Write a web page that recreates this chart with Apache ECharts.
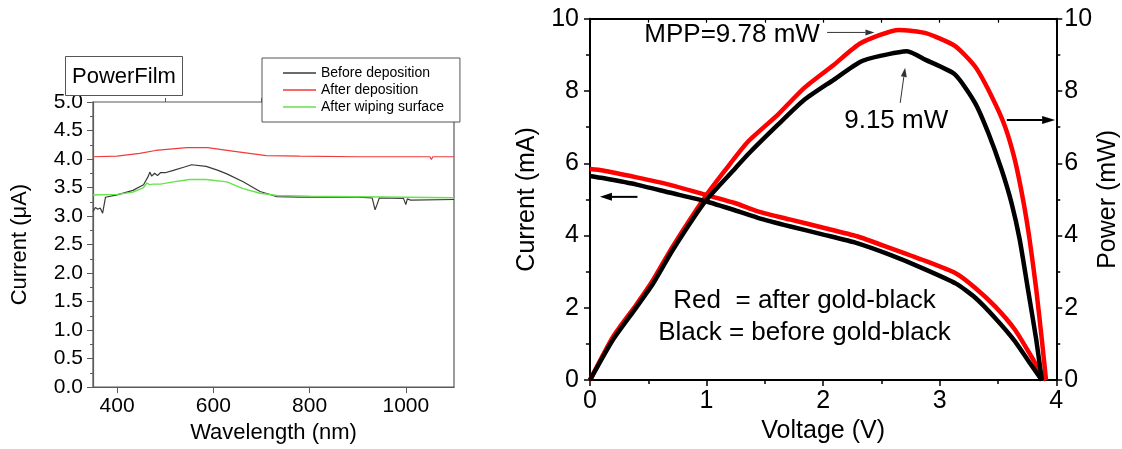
<!DOCTYPE html>
<html><head><meta charset="utf-8">
<script src="https://cdn.jsdelivr.net/npm/echarts@6/dist/echarts.min.js"></script>
<style>html,body{margin:0;padding:0;background:#fff}#c{width:1122px;height:449px}</style>
</head><body><div id="c"></div>
<script>
// ---------- Left panel data (wavelength in nm, current in µA) ----------
const wlBefore = [350,355,360,365,370,374,376,400,433,455,465,468,472,478,484,490,500,517,540,555,585,610,628,662,697,732,780,900,930,936,940,945,995,1000,1003,1010,1100];
const curBefore = [3.08,3.15,3.12,3.14,3.05,3.06,3.33,3.37,3.45,3.55,3.70,3.77,3.70,3.75,3.71,3.76,3.76,3.80,3.86,3.90,3.87,3.80,3.74,3.60,3.43,3.34,3.33,3.33,3.32,3.11,3.20,3.32,3.31,3.20,3.30,3.28,3.29];
const wlAfter = [350,400,447,480,545,588,640,710,779,900,1050,1053,1056,1100];
const curAfter = [4.04,4.05,4.10,4.15,4.20,4.20,4.14,4.06,4.05,4.04,4.04,3.99,4.04,4.04];
const wlWiped = [350,400,433,455,462,467,475,490,517,551,585,628,662,697,732,800,1000,1100];
const curWiped = [3.37,3.38,3.42,3.50,3.58,3.55,3.56,3.56,3.60,3.64,3.64,3.60,3.48,3.40,3.36,3.35,3.33,3.32];
const leftXTicks = [400,600,800,1000];
const leftXMinor = [500,700,900,1100];
const leftSeriesNames = ['Before deposition','After deposition','After wiping surface'];

// ---------- Right panel data (voltage V, current mA, power mW) ----------
const vBlackI = [0,0.11,0.40,0.68,0.99,1.243,1.44,1.72,2.01,2.29,2.57,2.85,3.14,3.305,3.475,3.644,3.771,3.876];
const iBlack  = [5.65,5.59,5.41,5.19,4.95,4.70,4.49,4.25,4.02,3.79,3.47,3.10,2.67,2.28,1.72,1.08,0.48,0];
const vRedI = [0,0.11,0.40,0.68,0.99,1.243,1.44,1.72,2.01,2.29,2.57,2.85,3.14,3.305,3.475,3.644,3.785,3.884,3.912];
const iRed  = [5.84,5.80,5.61,5.41,5.13,4.90,4.67,4.44,4.21,3.98,3.66,3.33,2.95,2.55,2.04,1.40,0.66,0.11,0];
const vBlackP = [0,0.198,0.395,0.537,0.706,0.99,1.243,1.356,1.61,1.836,2.09,2.32,2.49,2.72,2.88,3.13,3.305,3.418,3.531,3.616,3.686,3.757,3.828,3.876];
const pBlack  = [0,1.12,2.0,2.65,3.58,4.95,5.85,6.25,7.06,7.75,8.31,8.81,8.97,9.10,8.86,8.46,7.66,6.83,5.82,4.90,3.89,2.51,1.12,0];
const vRedP = [0,0.198,0.395,0.537,0.706,0.99,1.158,1.356,1.61,1.836,2.09,2.32,2.65,2.88,3.13,3.305,3.446,3.56,3.644,3.715,3.771,3.828,3.876,3.912];
const pRed  = [0,1.2,2.08,2.75,3.68,5.08,5.80,6.60,7.34,8.08,8.72,9.32,9.69,9.60,9.25,8.67,7.85,7.02,6.10,4.99,3.89,2.51,1.12,0];

const zip = (a, b) => a.map((x, i) => [x, b[i]]);
const FONT = '"Liberation Sans", Arial, Helvetica, sans-serif';

const chart = echarts.init(document.getElementById('c'), null, {renderer: 'canvas'});

const leftAxisColor = '#5a5a5a';
const SMOOTH = 0.2;

chart.setOption({
  animation: false,
  backgroundColor: '#fff',
  textStyle: {fontFamily: FONT, color: '#000'},
  title: [{
    text: 'PowerFilm', left: 65, top: 56,
    padding: [7, 7, 6, 7],
    borderColor: '#555', borderWidth: 1, backgroundColor: '#fff',
    textStyle: {fontSize: 22, fontWeight: 'normal', fontFamily: FONT, color: '#000', lineHeight: 27}
  }],
  legend: {
    orient: 'vertical', left: 262, top: 58,
    padding: [7, 16, 7, 21],
    icon: 'rect',
    itemWidth: 33, itemHeight: 1.5, itemGap: 1,
    borderColor: '#555', borderWidth: 1, backgroundColor: '#fff',
    textStyle: {fontSize: 14, fontFamily: FONT, color: '#000', lineHeight: 16},
    data: leftSeriesNames, z: 10
  },
  grid: [
    {left: 93, top: 102, width: 361, height: 290, show: true, borderColor: leftAxisColor, borderWidth: 1.2, containLabel: false},
    {left: 590, top: 18.7, width: 472, height: 362, show: false, containLabel: false}
  ],
  xAxis: [
    {gridIndex: 0, type: 'value', min: 350, max: 1100,
     name: 'Wavelength (nm)', nameLocation: 'middle', nameGap: 30,
     nameTextStyle: {fontSize: 22, fontFamily: FONT, color: '#000'},
     axisLine: {show: true, lineStyle: {color: leftAxisColor, width: 1.2}},
     axisTick: {show: true, customValues: leftXTicks, length: 6, lineStyle: {color: leftAxisColor}},
     axisLabel: {customValues: leftXTicks, fontSize: 21, color: '#000', margin: 9, fontFamily: FONT, formatter: v => String(v)},
     splitLine: {show: false}},
    {gridIndex: 0, type: 'value', min: 350, max: 1100,
     axisLine: {show: false},
     axisTick: {show: true, customValues: leftXMinor, length: 4, lineStyle: {color: leftAxisColor}},
     axisLabel: {show: false}, splitLine: {show: false}},
    {gridIndex: 1, type: 'value', min: 0, max: 4, interval: 1, position: 'bottom',
     name: 'Voltage (V)', nameLocation: 'middle', nameGap: 34,
     nameTextStyle: {fontSize: 25, fontFamily: FONT, color: '#000'},
     axisLine: {show: true, onZero: false, lineStyle: {color: '#000', width: 2}},
     axisTick: {show: true, length: 6, lineStyle: {color: '#000', width: 1.5}},
     minorTick: {show: true, splitNumber: 2, length: 4, lineStyle: {color: '#000', width: 1.5}},
     axisLabel: {fontSize: 25, color: '#000', margin: 9, fontFamily: FONT},
     splitLine: {show: false}, minorSplitLine: {show: false}},
    {gridIndex: 1, type: 'value', min: 0, max: 4, interval: 0.5, position: 'top',
     axisLine: {show: true, onZero: false, lineStyle: {color: '#000', width: 2}},
     axisTick: {show: true, inside: true, length: 4, lineStyle: {color: '#000', width: 1.2}},
     axisLabel: {show: false}, splitLine: {show: false}}
  ],
  yAxis: [
    {gridIndex: 0, type: 'value', min: 0, max: 5, interval: 0.5,
     name: 'Current (\u03bcA)', nameLocation: 'middle', nameGap: 62,
     nameTextStyle: {fontSize: 22, fontFamily: FONT, color: '#000'},
     axisLine: {show: true, lineStyle: {color: leftAxisColor, width: 1.2}},
     axisTick: {show: true, length: 6, lineStyle: {color: leftAxisColor}},
     minorTick: {show: true, splitNumber: 2, length: 3, lineStyle: {color: leftAxisColor}},
     axisLabel: {fontSize: 21, color: '#000', margin: 10, fontFamily: FONT, formatter: v => v.toFixed(1)},
     splitLine: {show: false}},
    {gridIndex: 1, type: 'value', min: 0, max: 10, interval: 2, position: 'left',
     name: 'Current (mA)', nameLocation: 'middle', nameGap: 50,
     nameTextStyle: {fontSize: 25, fontFamily: FONT, color: '#000'},
     axisLine: {show: true, onZero: false, lineStyle: {color: '#000', width: 2}},
     axisTick: {show: true, length: 6, lineStyle: {color: '#000', width: 1.5}},
     minorTick: {show: true, splitNumber: 2, length: 4, lineStyle: {color: '#000', width: 1.5}},
     axisLabel: {fontSize: 25, color: '#000', margin: 11, fontFamily: FONT},
     splitLine: {show: false}},
    {gridIndex: 1, type: 'value', min: 0, max: 10, interval: 2, position: 'right',
     name: 'Power (mW)', nameLocation: 'middle', nameGap: 30,
     nameTextStyle: {fontSize: 25, fontFamily: FONT, color: '#000'},
     axisLine: {show: true, onZero: false, lineStyle: {color: '#000', width: 2}},
     axisTick: {show: true, length: 6, lineStyle: {color: '#000', width: 1.5}},
     minorTick: {show: true, splitNumber: 2, length: 4, lineStyle: {color: '#000', width: 1.5}},
     axisLabel: {fontSize: 25, color: '#000', margin: 8, fontFamily: FONT},
     splitLine: {show: false}}
  ],
  series: [
    {name: leftSeriesNames[0], type: 'line', xAxisIndex: 0, yAxisIndex: 0, symbol: 'none',
     data: zip(wlBefore, curBefore), lineStyle: {color: '#3a3a3a', width: 1.2}, itemStyle: {color: '#3a3a3a'}},
    {name: leftSeriesNames[1], type: 'line', xAxisIndex: 0, yAxisIndex: 0, symbol: 'none',
     data: zip(wlAfter, curAfter), lineStyle: {color: '#f23a3a', width: 1.2}, itemStyle: {color: '#f23a3a'}},
    {name: leftSeriesNames[2], type: 'line', xAxisIndex: 0, yAxisIndex: 0, symbol: 'none',
     data: zip(wlWiped, curWiped), lineStyle: {color: '#66e24a', width: 1.4}, itemStyle: {color: '#66e24a'}},

    {name: 'Red power', type: 'line', xAxisIndex: 2, yAxisIndex: 2, symbol: 'none', smooth: SMOOTH,
     data: zip(vRedP, pRed), lineStyle: {color: '#ff0000', width: 4.5, join: 'round'}},
    {name: 'Red current', type: 'line', xAxisIndex: 2, yAxisIndex: 1, symbol: 'none', smooth: SMOOTH,
     data: zip(vRedI, iRed), lineStyle: {color: '#ff0000', width: 4.5, join: 'round'}},
    {name: 'Black power', type: 'line', xAxisIndex: 2, yAxisIndex: 2, symbol: 'none', smooth: SMOOTH,
     data: zip(vBlackP, pBlack), lineStyle: {color: '#000', width: 4.5, join: 'round'}},
    {name: 'Black current', type: 'line', xAxisIndex: 2, yAxisIndex: 1, symbol: 'none', smooth: SMOOTH,
     data: zip(vBlackI, iBlack), lineStyle: {color: '#000', width: 4.5, join: 'round'}}
  ]
});

// ---------- Annotations (in data coordinates of the right panel) ----------
const notes = [
  {text: 'MPP=9.78 mW', at: [0.466, 9.55], align: 'left'},
  {text: '9.15 mW', at: [2.627, 7.17], align: 'center'},
  {text: 'Red  = after gold-black', at: [1.84, 2.18], align: 'center'},
  {text: 'Black = before gold-black', at: [1.84, 1.31], align: 'center'}
];
const arrows = [
  {from: [2.034, 9.62], to: [2.44, 9.62], lw: 1, hl: 9, hw: 3, color: '#333'},
  {from: [2.661, 7.67], to: [2.703, 8.64], lw: 1, hl: 9, hw: 3, color: '#333'},
  {from: [0.407, 5.07], to: [0.085, 5.07], lw: 2, hl: 12, hw: 4, color: '#000'},
  {from: [3.576, 7.2], to: [3.99, 7.2], lw: 2, hl: 13, hw: 4, color: '#000'}
];
const px = p => chart.convertToPixel({xAxisIndex: 2, yAxisIndex: 1}, p);
const g = [];
notes.forEach(n => {
  const p = px(n.at);
  g.push({type: 'text', x: p[0], y: p[1], z: 100,
    style: {text: n.text, fill: '#000', font: '26px ' + FONT, align: n.align, verticalAlign: 'middle',
            textAlign: n.align, textVerticalAlign: 'middle'}});
});
arrows.forEach(a => {
  const p0 = px(a.from), p1 = px(a.to);
  const dx = p1[0] - p0[0], dy = p1[1] - p0[1], len = Math.hypot(dx, dy);
  const ux = dx / len, uy = dy / len;
  const bx = p1[0] - ux * a.hl, by = p1[1] - uy * a.hl;
  g.push({type: 'line', z: 100, shape: {x1: p0[0], y1: p0[1], x2: bx, y2: by}, style: {stroke: a.color, lineWidth: a.lw}});
  g.push({type: 'polygon', z: 100, shape: {points: [[p1[0], p1[1]], [bx - uy * a.hw, by + ux * a.hw], [bx + uy * a.hw, by - ux * a.hw]]}, style: {fill: a.color}});
});
chart.setOption({graphic: g});
</script></body></html>
